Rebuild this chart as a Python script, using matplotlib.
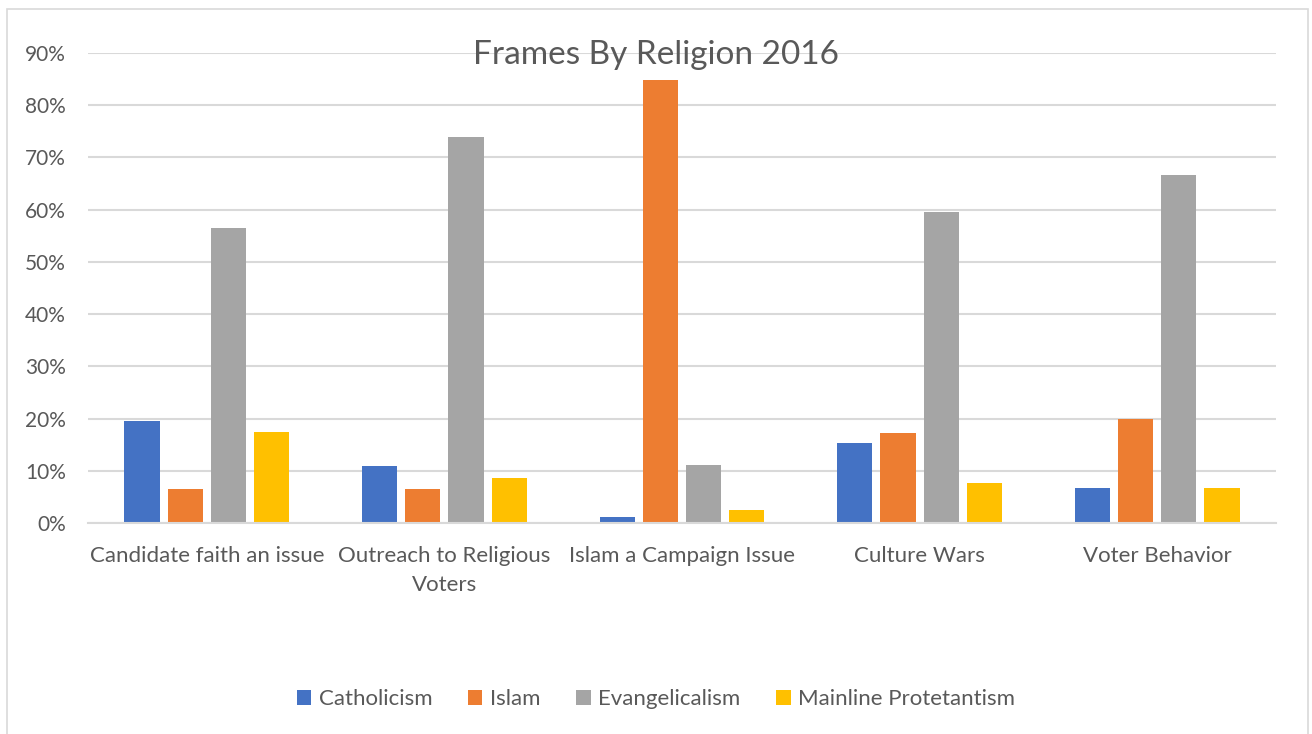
import numpy as np
import matplotlib
matplotlib.use("Agg")
import matplotlib.pyplot as plt
from matplotlib.patches import Rectangle
from matplotlib.ticker import FuncFormatter, MultipleLocator

plt.rcParams['font.family'] = ['Lato', 'DejaVu Sans']

categories = ["Candidate faith an issue", "Outreach to Religious\nVoters",
              "Islam a Campaign Issue", "Culture Wars", "Voter Behavior"]
series_names = ["Catholicism", "Islam", "Evangelicalism", "Mainline Protetantism"]
catholicism = [19.6, 10.9, 1.1, 15.3, 6.7]
islam = [6.5, 6.5, 84.9, 17.3, 19.9]
evangelicalism = [56.5, 73.9, 11.2, 59.6, 66.7]
mainline = [17.4, 8.7, 2.4, 7.7, 6.7]
colors = ["#4472C4", "#ED7D31", "#A5A5A5", "#FFC000"]

W, H = 1312, 734
fig = plt.figure(figsize=(W / 100, H / 100), dpi=100)
fig.patch.set_facecolor("white")

# chart frame
fig.add_artist(Rectangle((7 / W, -0.05), 1301 / W, 1 - 9 / H + 0.05,
                         transform=fig.transFigure, fill=False,
                         edgecolor="#D9D9D9", linewidth=1.2))

left, right, top, bottom = 88, 1276, 53, 523
ax = fig.add_axes([left / W, 1 - bottom / H, (right - left) / W, (bottom - top) / H])

x = np.arange(len(categories))
bw = 0.148
step = 0.182
offsets = (np.arange(4) - 1.5) * step
for vals, name, c, off in zip([catholicism, islam, evangelicalism, mainline],
                              series_names, colors, offsets):
    ax.bar(x + off, vals, width=bw, color=c, label=name, zorder=3)

ax.set_xlim(-0.5, len(categories) - 0.5)
ax.set_ylim(0, 90)
ax.yaxis.set_major_locator(MultipleLocator(10))
ax.yaxis.set_major_formatter(FuncFormatter(lambda v, p: f"{v:.0f}%"))
ax.grid(axis="y", color="#D9D9D9", linewidth=1.5, zorder=0)
ax.set_axisbelow(True)
for s in ["top", "right", "left"]:
    ax.spines[s].set_visible(False)
ax.spines["bottom"].set_color("#D9D9D9")
ax.spines["bottom"].set_linewidth(1.5)
ax.spines["bottom"].set_zorder(4)
ax.tick_params(axis="both", length=0, colors="#595959")
ax.tick_params(axis="y", pad=16, labelsize=15)
ax.tick_params(axis="x", pad=16.5, labelsize=16)
ax.set_xticks(x)
ax.set_xticklabels(categories, linespacing=1.55)

fig.text(0.5, 1 - 55 / H, "Frames By Religion 2016", ha="center", va="center",
         fontsize=24, color="#595959")

fig.legend(loc="center", bbox_to_anchor=(0.5, 1 - 699 / H), ncol=4, frameon=False,
           fontsize=16, labelcolor="#595959", handlelength=0.65, handleheight=0.65,
           handletextpad=0.35, columnspacing=1.6)

fig.savefig("out.png", dpi=100, facecolor="white")
